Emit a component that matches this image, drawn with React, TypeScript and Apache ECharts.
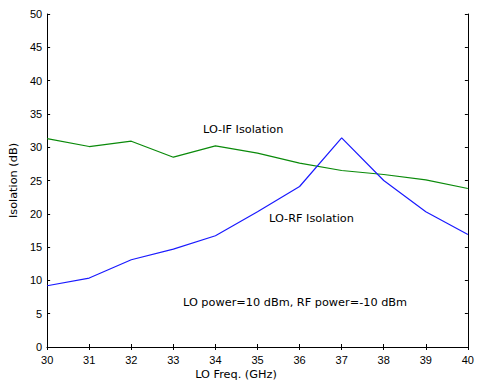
import React, { useEffect, useRef } from "react";
import * as echarts from "echarts";

const freqs = [30, 31, 32, 33, 34, 35, 36, 37, 38, 39, 40];
const loRf = [9.2, 10.35, 13.1, 14.7, 16.7, 20.3, 24.1, 31.4, 25.0, 20.3, 16.9];
const loIf = [31.3, 30.1, 30.9, 28.5, 30.2, 29.1, 27.6, 26.5, 25.9, 25.1, 23.8];
const xLabel = "LO Freq. (GHz)";
const yLabel = "Isolation (dB)";
const noteIf = "LO-IF Isolation";
const noteRf = "LO-RF Isolation";
const notePower = "LO power=10 dBm, RF power=-10 dBm";

const TICK_FONT = "Liberation Sans, Arial, sans-serif";
const TEXT_FONT = "DejaVu Sans, Verdana, sans-serif";

export default function App() {
  const ref = useRef<HTMLDivElement>(null);
  useEffect(() => {
    if (!ref.current) return;
    document.body.style.margin = "0";
    document.body.style.overflow = "hidden";
    const chart = echarts.init(ref.current, undefined, { renderer: "svg" });
    const axisLine = { lineStyle: { color: "#000", width: 1 } };
    const tick = { inside: true, length: 3, lineStyle: { color: "#000" } };
    const label = { color: "#000", fontSize: 11, fontFamily: TICK_FONT };
    const textStyle = (text: string) => ({
      text,
      fill: "#000",
      font: `11.3px ${TEXT_FONT}`,
      verticalAlign: "middle",
    });
    chart.setOption({
      animation: false,
      backgroundColor: "#fff",
      grid: { left: 45, right: 4, top: 14, bottom: 38, containLabel: false },
      xAxis: [
        {
          type: "value",
          min: 30,
          max: 40,
          interval: 1,
          axisLine,
          axisTick: tick,
          axisLabel: { ...label, margin: 7 },
          splitLine: { show: false },
        },
        {
          type: "value",
          position: "top",
          min: 30,
          max: 40,
          interval: 1,
          axisLine,
          axisTick: tick,
          axisLabel: { show: false },
          splitLine: { show: false },
        },
      ],
      yAxis: [
        {
          type: "value",
          min: 0,
          max: 50,
          interval: 5,
          name: yLabel,
          nameLocation: "middle",
          nameGap: 24,
          nameTextStyle: { color: "#000", fontSize: 11.3, fontFamily: TEXT_FONT },
          axisLine: { show: true, ...axisLine },
          axisTick: { show: true, ...tick },
          axisLabel: { ...label, margin: 5 },
          splitLine: { show: false },
        },
        {
          type: "value",
          position: "right",
          min: 0,
          max: 50,
          interval: 5,
          axisLine: { show: true, ...axisLine },
          axisTick: { show: true, ...tick },
          axisLabel: { show: false },
          splitLine: { show: false },
        },
      ],
      series: [
        {
          type: "line",
          data: freqs.map((f, i) => [f, loIf[i]]),
          symbol: "none",
          lineStyle: { color: "#0a8a0a", width: 1.2 },
        },
        {
          type: "line",
          data: freqs.map((f, i) => [f, loRf[i]]),
          symbol: "none",
          lineStyle: { color: "#1a1aff", width: 1.2 },
        },
      ],
      graphic: [
        { type: "text", x: 203, y: 129, style: textStyle(noteIf) },
        { type: "text", x: 269, y: 218, style: textStyle(noteRf) },
        { type: "text", x: 183, y: 302, style: textStyle(notePower) },
        {
          type: "text",
          x: 236,
          y: 374,
          style: { ...textStyle(xLabel), align: "center" },
        },
      ],
    });
    return () => chart.dispose();
  }, []);
  return <div ref={ref} style={{ width: 477, height: 385, position: "absolute", left: 0, top: 0 }} />;
}
